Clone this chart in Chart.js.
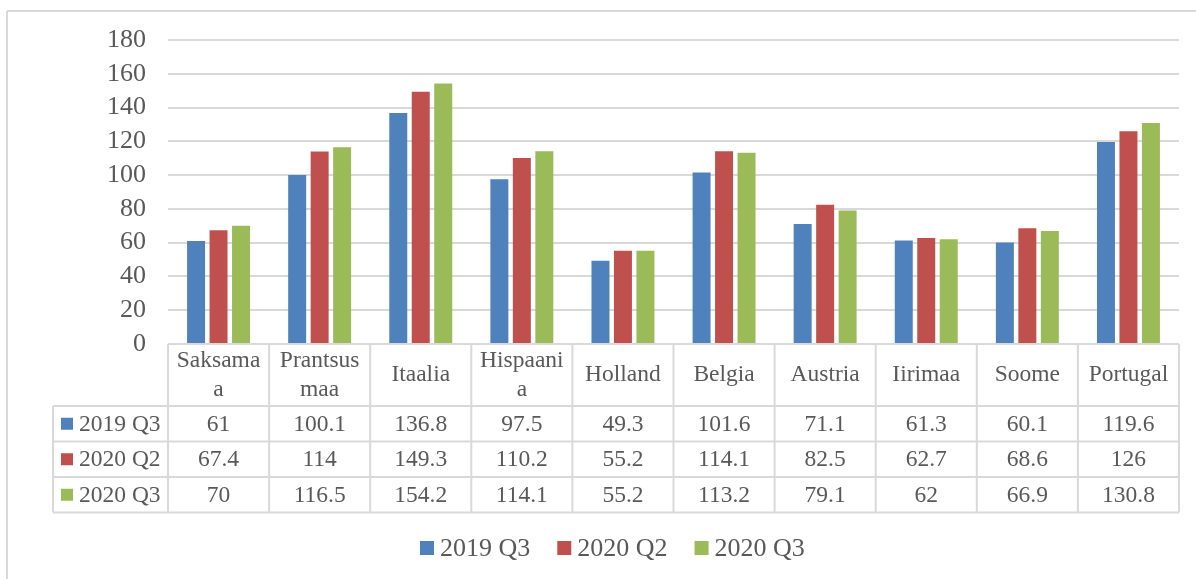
<!DOCTYPE html>
<html>
<head>
<meta charset="utf-8">
<script src="https://cdn.jsdelivr.net/npm/chart.js@4"></script>
<style>
  html, body { margin: 0; padding: 0; background: #fff; }
  canvas { display: block; }
</style>
</head>
<body>
<canvas id="chart" width="1196" height="579"></canvas>
<script>
const countries = [['Saksama', 'a'], ['Prantsus', 'maa'], 'Itaalia', ['Hispaani', 'a'], 'Holland', 'Belgia', 'Austria', 'Iirimaa', 'Soome', 'Portugal'];
const seriesNames = ['2019 Q3', '2020 Q2', '2020 Q3'];
const q3_2019 = [61, 100.1, 136.8, 97.5, 49.3, 101.6, 71.1, 61.3, 60.1, 119.6];
const q2_2020 = [67.4, 114, 149.3, 110.2, 55.2, 114.1, 82.5, 62.7, 68.6, 126];
const q3_2020 = [70, 116.5, 154.2, 114.1, 55.2, 113.2, 79.1, 62, 66.9, 130.8];
const yTicks = [0, 20, 40, 60, 80, 100, 120, 140, 160, 180];
const colors = ['#4f81bd', '#c0504d', '#9bbb59'];

const textColor = '#595959';
const lineColor = '#d9d9d9';
const serif = "'Liberation Serif', 'Times New Roman', serif";

// data table under the plot + legend + outer frame
const tablePlugin = {
  id: 'dataTable',
  afterDraw(chart) {
    const ctx = chart.ctx;
    const area = chart.chartArea;
    const x = chart.scales.x;
    const n = countries.length;
    const colW = (area.right - area.left) / n;
    const keyLeft = 53;
    const headTop = area.bottom;
    const headBottom = 406;
    const rowH = 35.5;
    const tableBottom = headBottom + rowH * 3;

    ctx.save();
    ctx.strokeStyle = lineColor;
    ctx.lineWidth = 2;

    // outer frame (top and left edges)
    ctx.beginPath();
    ctx.moveTo(7, 11);
    ctx.lineTo(1196, 11);
    ctx.moveTo(7, 11);
    ctx.lineTo(7, 579);
    ctx.stroke();

    // horizontal rules
    ctx.beginPath();
    ctx.moveTo(area.left, headTop);
    ctx.lineTo(area.right, headTop);
    for (let r = 0; r <= 3; r++) {
      const y = headBottom + r * rowH;
      ctx.moveTo(keyLeft, y);
      ctx.lineTo(area.right, y);
    }
    // vertical rules
    ctx.moveTo(keyLeft, headBottom);
    ctx.lineTo(keyLeft, tableBottom);
    for (let i = 0; i <= n; i++) {
      const xx = area.left + i * colW;
      ctx.moveTo(xx, headTop);
      ctx.lineTo(xx, tableBottom);
    }
    ctx.stroke();

    ctx.fillStyle = textColor;
    ctx.textAlign = 'center';
    ctx.textBaseline = 'middle';
    ctx.font = '23.5px ' + serif;

    // header row: country names
    countries.forEach((c, i) => {
      const cx = x.getPixelForValue(i);
      const lines = Array.isArray(c) ? c : [c];
      const lh = 29;
      const mid = (headTop + headBottom) / 2;
      lines.forEach((ln, k) => {
        ctx.fillText(ln, cx, mid + (k - (lines.length - 1) / 2) * lh);
      });
    });

    // value rows
    chart.data.datasets.forEach((ds, r) => {
      const cy = headBottom + r * rowH + rowH / 2;
      ctx.fillStyle = ds.backgroundColor;
      ctx.fillRect(61, cy - 6, 12, 12);
      ctx.fillStyle = textColor;
      ctx.textAlign = 'left';
      ctx.fillText(ds.label, 79, cy + 1);
      ctx.textAlign = 'center';
      ds.data.forEach((v, i) => {
        ctx.fillText(String(v), x.getPixelForValue(i), cy + 1);
      });
    });

    // legend
    ctx.font = '26px ' + serif;
    ctx.textAlign = 'left';
    let lx = 420;
    const ly = 548;
    chart.data.datasets.forEach((ds) => {
      ctx.fillStyle = ds.backgroundColor;
      ctx.fillRect(lx, ly - 7, 14, 14);
      ctx.fillStyle = textColor;
      ctx.fillText(ds.label, lx + 20, ly + 1);
      lx += 20 + ctx.measureText(ds.label).width + 27;
    });
    ctx.restore();
  }
};

new Chart(document.getElementById('chart'), {
  type: 'bar',
  data: {
    labels: countries,
    datasets: [
      { label: seriesNames[0], data: q3_2019, backgroundColor: colors[0] },
      { label: seriesNames[1], data: q2_2020, backgroundColor: colors[1] },
      { label: seriesNames[2], data: q3_2020, backgroundColor: colors[2] }
    ]
  },
  options: {
    responsive: false,
    animation: false,
    layout: { padding: { left: 0, top: 40, right: 17, bottom: 235 } },
    datasets: {
      bar: { categoryPercentage: 0.667, barPercentage: 0.8, borderWidth: 0 }
    },
    scales: {
      x: { display: false },
      y: {
        min: 0,
        max: 180,
        afterFit: (scale) => { scale.width = 168; },
        afterBuildTicks: (scale) => { scale.ticks = yTicks.map((v) => ({ value: v })); },
        border: { display: false },
        grid: { color: lineColor, lineWidth: 2, drawTicks: false },
        ticks: {
          autoSkip: false,
          padding: 22,
          color: textColor,
          font: { family: serif, size: 26 }
        }
      }
    },
    plugins: {
      legend: { display: false },
      tooltip: { enabled: false }
    }
  },
  plugins: [tablePlugin]
});
</script>
</body>
</html>
